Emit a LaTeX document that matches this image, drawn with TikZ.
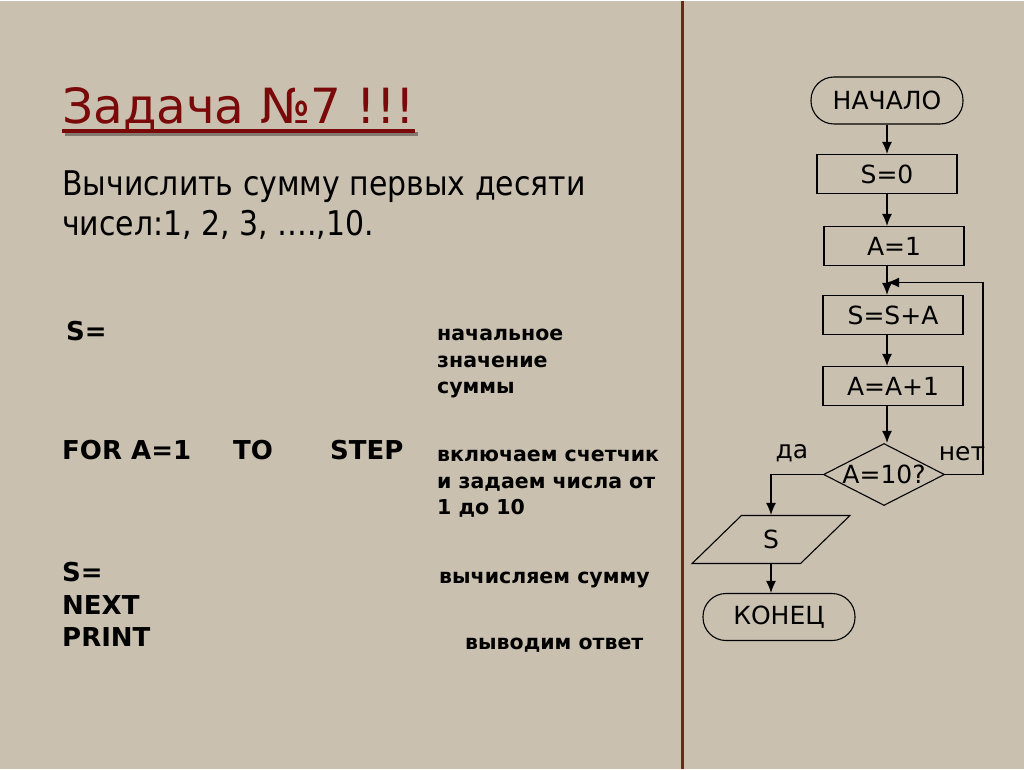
\documentclass[tikz,border=0pt]{standalone}
\usepackage{fontspec}
\setmainfont{DejaVu Sans}
\newfontfamily\slidefont{DejaVu Sans}
\newfontfamily\taskfont{DejaVu Sans}[FakeStretch=0.88]
\newfontfamily\boldfont{DejaVu Sans Bold}
\usetikzlibrary{shapes.geometric,arrows.meta}
\definecolor{paper}{RGB}{201,192,175}
\definecolor{titlered}{RGB}{122,10,10}
\definecolor{shadowgrey}{RGB}{130,122,110}
\definecolor{divider}{RGB}{112,38,18}
\newcommand{\chartfont}{\slidefont\fontsize{25}{30}\selectfont}
\newcommand{\codefont}{\boldfont\fontsize{26}{32}\selectfont}
\newcommand{\notefont}{\boldfont\fontsize{20.5}{26.5}\selectfont}
\begin{document}
\begin{tikzpicture}[x=1pt,y=-1pt]

  \tikzset{box/.style={draw, line width=1.1pt, inner sep=0pt, font=\chartfont},
    proc/.style={box, rectangle, minimum width=140pt, minimum height=39pt},
    term/.style={box, rectangle, rounded corners=23pt, minimum width=152pt, minimum height=47pt},
    decide/.style={box, diamond, aspect=2, minimum width=121pt, minimum height=62pt},
    io/.style={box, trapezium, trapezium left angle=55, trapezium right angle=125, trapezium stretches=true, minimum width=158pt, minimum height=48pt},
    arr/.style={-{Latex[length=12pt,width=10pt]}, line width=1.4pt},
    code/.style={anchor=base west, inner sep=0pt, font=\codefont},
    note/.style={anchor=base west, inner sep=0pt, align=left, font=\notefont}}

%% Slide
  \fill[paper] (0,0) rectangle (1024,767);
  \draw[divider, line width=3pt] (682,0) -- (682,767);

%% Task text
  \node[anchor=base west, inner sep=0pt, titlered, font=\slidefont\fontsize{48.5}{58}\selectfont] (title) at (62,122) {Задача №7 !!!};
  \draw[shadowgrey, line width=4pt] ([xshift=2.5pt,yshift=-10.5pt]title.base west) -- ([xshift=2.5pt,yshift=-10.5pt]title.base east);
  \draw[titlered, line width=4pt] ([yshift=-8pt]title.base west) -- ([yshift=-8pt]title.base east);
  \node[anchor=base west, inner sep=0pt, align=left, font=\taskfont\fontsize{34}{40}\selectfont] (task) at (62,234) {Вычислить сумму первых десяти\\чисел:1, 2, 3, ….,10.};

%% Program
  \node[code] (init) at (66,339) {S=};
  \node[code] (for) at (62,458) {FOR A=1};
  \node[code] (to) at (233,458) {TO};
  \node[code] (step) at (330,458) {STEP};
  \node[code] (sum) at (62,580) {S=};
  \node[code] (next) at (62,613) {NEXT};
  \node[code] (print) at (62,645) {PRINT};
%Comments (last line on the baseline)
  \node[note] (initnote) at (437,392) {начальное\\значение\\суммы};
  \node[note] (fornote) at (437,513) {включаем счетчик\\и задаем числа от\\1 до 10};
  \node[note] (sumnote) at (439,582) {вычисляем сумму};
  \node[note] (printnote) at (465,648) {выводим ответ};

%% Flowchart
  \node[term] (begin) at (887,99) {НАЧАЛО};
  \node[proc] (s0) at (887,172.5) {S=0};
  \node[proc] (a1) at (894,244.5) {A=1};
  \node[proc] (ssa) at (893,313.5) {S=S+A};
  \node[proc] (aa1) at (893,384.5) {A=A+1};
  \node[decide] (cond) at (884,473) {A=10?};
  \node[io] (out) at (771,538) {S};
  \node[term] (finish) at (779,615.5) {КОНЕЦ};
  \node[font=\chartfont] (yes) at (792,452) {да};
  \node[font=\chartfont] (no) at (962,452) {нет};
  \coordinate (merge) at (887,281);
%Edges
  \draw[arr] (begin) -- (s0);
  \draw[arr] (s0) -- (a1.north -| s0);
  \draw[arr] (a1.south -| s0) -- (ssa.north -| s0);
  \draw[arr] (ssa.south -| s0) -- (aa1.north -| s0);
  \draw[arr] (aa1.south -| s0) -- (cond.north -| s0);
  \draw[arr] (cond.east) -- ++(38,0) |- (merge);
  \draw[arr] (cond.west) -| (out.north);
  \draw[arr] (out.south) -- (out.south |- finish.north);

\end{tikzpicture}
\end{document}
